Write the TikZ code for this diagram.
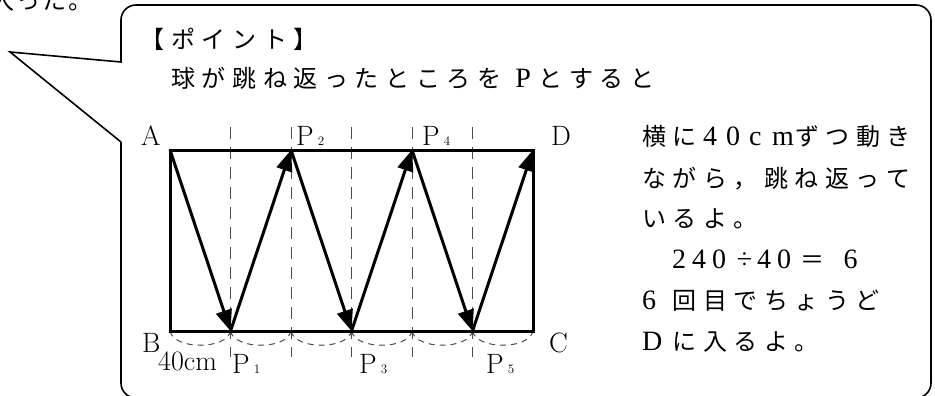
\documentclass[tikz,border=0pt]{standalone}
\usepackage{fontspec}
\newfontfamily\jp{Noto Sans CJK JP}
\newfontfamily\lt{Liberation Serif}
\usetikzlibrary{arrows.meta}
\makeatletter
\newcommand\spc[2]{\@tfor\spc@ch:=#2\do{\makebox[#1][l]{\spc@ch}}}
\newcommand\spcc[2]{\@tfor\spc@ch:=#2\do{\makebox[#1][c]{\spc@ch}}}
\makeatother
\newcommand\LT{\lt\fontsize{28}{28}\selectfont}
\tikzset{
  jtext/.style={anchor=base west, inner sep=0pt, font=\jp\fontsize{24}{24}\selectfont},
  lbl/.style={anchor=base west, inner sep=0pt, font=\fontsize{28}{28}\selectfont},
  bounce/.style={line width=3pt, -{Triangle[length=21pt,width=16pt]}},
  frame/.style={line width=3pt, line join=miter},
  guide/.style={line width=1pt, draw=black!70, dash pattern=on 12pt off 8pt},
  span/.style={line width=1pt, draw=black!70, dash pattern=on 6pt off 5pt},
  bubble/.style={line width=1.6pt, line join=miter}
}
\newcommand\Psub[1]{P\hspace{4pt}{\fontsize{13}{13}\selectfont #1}}
\begin{document}
\begin{tikzpicture}[x=1pt,y=-1pt]
\useasboundingbox (0,0) rectangle (935,396);
\clip (0,0) rectangle (935,396);
% callout bubble
\draw[bubble] (121,142) -- (10,52) -- (121,62) [rounded corners=15pt] -- (121,5) -- (931,5) -- (931,398) -- (121,398) [sharp corners] -- (121,142);
% fragment of preceding text
\node[jtext] (t0) at (-10,10) {\spc{26pt}{入った。}};
% heading lines
\node[jtext] (t1) at (140.4,49) {\spc{30.6pt}{【ポイント】}};
\node[jtext] (t2) at (171,88) {\spc{30.6pt}{球が跳ね返ったところを}{\LT\spcc{30.6pt}{P}}\spc{30.6pt}{とすると}};
% corners and bounce points
\coordinate (A) at (170,150);
\coordinate (D) at (533,150);
\coordinate (B) at (170,331);
\coordinate (C) at (533,331);
\coordinate (P1) at (230.5,331);
\coordinate (P2) at (291,150);
\coordinate (P3) at (351.5,331);
\coordinate (P4) at (412,150);
\coordinate (P5) at (472.5,331);
% guides
\foreach \gx in {230.5,291,351.5,412,472.5}{
  \draw[guide] (\gx,127) -- (\gx,357);
}
% bottom spans
\foreach \ax/\bx in {170/230.5,230.5/291,291/351.5,351.5/412,412/472.5,472.5/533}{
  \draw[span] (\ax,331) .. controls (\ax+4,350) and (\bx-4,350) .. (\bx,331);
}
% frame
\draw[frame] (A) rectangle (C);
% path of the ball
\draw[bounce] (A) -- (P1);
\draw[bounce] (P1) -- (P2);
\draw[bounce] (P2) -- (P3);
\draw[bounce] (P3) -- (P4);
\draw[bounce] (P4) -- (P5);
\draw[bounce] (P5) -- (D);
% labels
\node[lbl] (lA) at (141,146) {A};
\node[lbl] (lD) at (551,146) {D};
\node[lbl] (lB) at (142,352) {B};
\node[lbl] (lC) at (549,352) {C};
\node[lbl] (l40) at (158,370) {40cm};
\node[lbl] (lP2) at (296,146) {\Psub{2}};
\node[lbl] (lP4) at (422,146) {\Psub{4}};
\node[lbl] (lP1) at (232,373) {\Psub{1}};
\node[lbl] (lP3) at (359,373) {\Psub{3}};
\node[lbl] (lP5) at (486,373) {\Psub{5}};
% explanation
\node[jtext] (r1) at (642,145) {\spc{30.5pt}{横に}{\LT\spc{23pt}{40cm}}\spc{30.5pt}{ずつ動き}};
\node[jtext] (r2) at (642,187) {\spc{30.5pt}{ながら，跳ね返って}};
\node[jtext] (r3) at (642,227) {\spc{30.5pt}{いるよ。}};
\node[jtext] (r4) at (672,268) {{\LT\spc{20pt}{240}\makebox[25pt][c]{÷}\spc{20pt}{40}}\spcc{30.5pt}{＝}{\LT\makebox[30pt][r]{6}}};
\node[jtext] (r5) at (642,309) {{\LT\makebox[30.5pt][l]{6}}\spc{30.5pt}{回目でちょうど}};
\node[jtext] (r6) at (642,350) {{\LT\makebox[30.5pt][l]{D}}\spc{30.5pt}{に入るよ。}};
\end{tikzpicture}
\end{document}
